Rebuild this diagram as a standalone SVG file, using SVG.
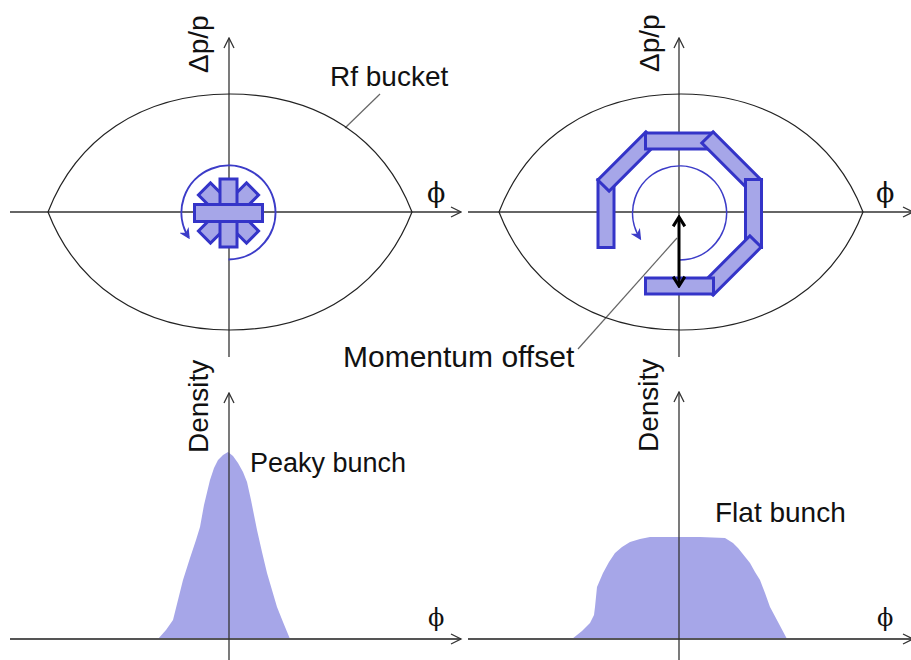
<svg xmlns="http://www.w3.org/2000/svg" width="911" height="660" viewBox="0 0 911 660">
<style>
.axis{stroke:#333;stroke-width:1.3;fill:none}
.axisb{stroke:#555;stroke-width:2;fill:none}
.bucket{stroke:#222;stroke-width:1.2;fill:none}
.lead{stroke:#666;stroke-width:1.2;fill:none}
.blk{fill:#a6a6e8;stroke:#3434c8;stroke-width:3}
.dist{fill:#a6a6e8;stroke:none}
.circ{fill:none;stroke:#3c3cc8}
.t{font-family:"Liberation Sans",Arial,sans-serif;fill:#111}
.phi{font-family:"DejaVu Serif",serif;fill:#111}
</style>
<defs>
<marker id="ax" viewBox="0 0 12 12" refX="11" refY="6" markerWidth="12" markerHeight="12" markerUnits="userSpaceOnUse" orient="auto">
<path d="M1,1 L11,6 L1,11" fill="none" stroke="#333" stroke-width="1.3"/>
</marker>
<marker id="ca" viewBox="0 0 10 10" refX="8" refY="5" markerWidth="11" markerHeight="11" markerUnits="userSpaceOnUse" orient="auto">
<path d="M0,0 L10,5 L0,10 L3,5 Z" fill="#3c3cc8"/>
</marker>
<marker id="ba" viewBox="0 0 12 12" refX="10" refY="6" markerWidth="14" markerHeight="14" markerUnits="userSpaceOnUse" orient="auto-start-reverse">
<path d="M2,1 L10,6 L2,11" fill="none" stroke="#000" stroke-width="2.6" stroke-linejoin="miter"/>
</marker>
</defs>
<rect width="911" height="660" fill="#fff"/>

<g id="bunch-shapes">
<path class="dist" d="M158,639 L166,630 L173,620 L178,600 L183,580 L190,558 L196,540 L200,527 L204,505 L210,480 L214,468 L218,460 L223,455 L228,452 L233,456 L238,463 L243,472 L247,482 L251,500 L257,530 L262,552 L267,573 L272,590 L277,607 L283,622 L290,639 Z"/>
<path class="dist" d="M572,639 L582,631 L590,623 L594,615 L595,607 L597,587 L603,573 L609,562 L615,553 L622,547 L630,542 L640,539 L650,537 L700,537 L725,538 L733,543 L738,548 L742,553 L746,558 L750,563 L755,572 L760,580 L765,593 L770,607 L778,622 L787,639 Z"/>
</g>

<g id="connectors">
<line class="axis" x1="10" y1="212" x2="461" y2="212" marker-end="url(#ax)"/>
<line class="axis" x1="229" y1="357" x2="229" y2="38" marker-end="url(#ax)"/>
<line class="axis" x1="468" y1="212" x2="913" y2="212" marker-end="url(#ax)"/>
<line class="axis" x1="679" y1="357" x2="679" y2="38" marker-end="url(#ax)"/>
<line class="axisb" x1="10" y1="639" x2="461" y2="639"/>
<path d="M451,634 L461,639 L451,644" class="axis"/>
<line class="axis" x1="229" y1="660" x2="229" y2="393" marker-end="url(#ax)"/>
<line class="axisb" x1="468" y1="639" x2="913" y2="639"/>
<path d="M903,634 L913,639 L903,644" class="axis"/>
<line class="axis" x1="679" y1="660" x2="679" y2="392" marker-end="url(#ax)"/>
<line class="lead" x1="345" y1="128" x2="380" y2="94"/>
<line class="lead" x1="677" y1="238" x2="578" y2="349"/>
</g>

<g id="bucket-left">
<path class="bucket" d="M48,212 C76,140 140,94 230,94 C320,94 384,140 412,212 C384,284 320,330 230,330 C140,330 76,284 48,212 Z"/>
</g>
<g id="bucket-right">
<path class="bucket" d="M499,212 C527,140 591,94 681,94 C771,94 835,140 863,212 C835,284 771,330 681,330 C591,330 527,284 499,212 Z"/>
</g>

<g id="peaky-phase-space">
<g transform="translate(228.5,213)">
<rect class="blk" x="-34" y="-8.5" width="68" height="17" transform="rotate(45)"/>
<rect class="blk" x="-34" y="-8.5" width="68" height="17" transform="rotate(-45)"/>
<rect class="blk" x="-34" y="-8.5" width="68" height="17" transform="rotate(90)"/>
<rect class="blk" x="-34" y="-8.5" width="68" height="17"/>
</g>
<path class="circ" stroke-width="2" d="M228.5,259.5 A47,47 0 1 0 188.6,237.4" marker-end="url(#ca)"/>
</g>

<g id="flat-phase-space">
<rect class="blk" x="-34" y="-8" width="68" height="16" transform="translate(606,213.5) rotate(90)"/>
<rect class="blk" x="-34" y="-8" width="68" height="16" transform="translate(627.5,161.5) rotate(-45)"/>
<rect class="blk" x="-34" y="-8" width="68" height="16" transform="translate(679.5,141) rotate(0)"/>
<rect class="blk" x="-34" y="-8" width="68" height="16" transform="translate(731.5,161.5) rotate(45)"/>
<rect class="blk" x="-34" y="-8" width="68" height="16" transform="translate(753.5,213.5) rotate(90)"/>
<rect class="blk" x="-34" y="-8" width="68" height="16" transform="translate(731.5,265.5) rotate(-45)"/>
<rect class="blk" x="-34" y="-8" width="68" height="16" transform="translate(679.5,286) rotate(0)"/>
<path class="circ" stroke-width="1.6" d="M679.5,260 A47,47 0 1 0 640,238.3" marker-end="url(#ca)"/>
</g>

<g id="momentum-arrow">
<line x1="679" y1="217" x2="679" y2="286" stroke="#000" stroke-width="3" marker-start="url(#ba)" marker-end="url(#ba)"/>
</g>

<g id="labels">
<text class="t" font-size="28" transform="translate(208,73) rotate(-90)">Δp/p</text>
<text class="t" font-size="28" transform="translate(659,72) rotate(-90)">Δp/p</text>
<text class="t" font-size="28" x="330" y="86">Rf bucket</text>
<text class="phi" font-size="27" x="427" y="202">ϕ</text>
<text class="phi" font-size="27" x="876" y="202">ϕ</text>
<text class="t" font-size="30" x="343" y="367">Momentum offset</text>
<text class="t" font-size="28" transform="translate(208,453) rotate(-90)">Density</text>
<text class="t" font-size="28" transform="translate(658,452) rotate(-90)">Density</text>
<text class="t" font-size="27" x="250" y="472">Peaky bunch</text>
<text class="t" font-size="28" x="715" y="522">Flat bunch</text>
<text class="phi" font-size="24" x="428" y="626">ϕ</text>
<text class="phi" font-size="24" x="877" y="626">ϕ</text>
</g>
</svg>
